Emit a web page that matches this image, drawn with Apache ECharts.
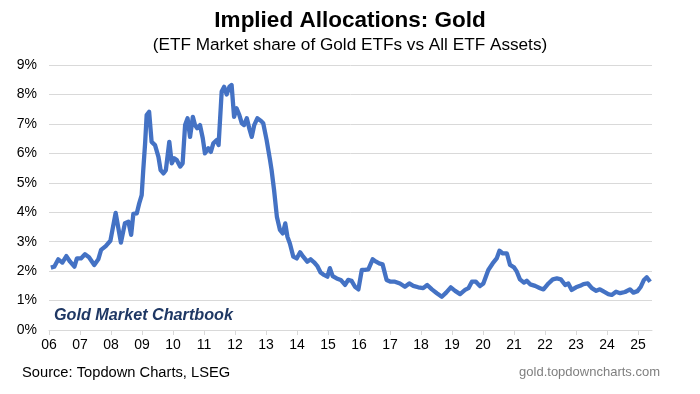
<!DOCTYPE html>
<html>
<head>
<meta charset="utf-8">
<script src="https://cdn.jsdelivr.net/npm/echarts@6/dist/echarts.min.js"></script>
<style>
html,body{margin:0;padding:0;background:#fff;}
#chart{width:700px;height:394px;}
</style>
</head>
<body>
<div id="chart"></div>
<script>
var dates = [2006.06,2006.17,2006.30,2006.43,2006.56,2006.68,2006.82,2006.90,2007.03,2007.16,2007.29,2007.46,2007.59,2007.68,2007.83,2007.98,
2008.15,2008.32,2008.45,2008.56,2008.65,2008.72,2008.83,2008.91,2008.99,2009.04,2009.10,2009.15,2009.23,2009.31,2009.42,2009.53,2009.60,2009.69,2009.77,2009.88,2009.96,
2010.04,2010.12,2010.23,2010.31,2010.39,2010.47,2010.55,2010.64,2010.71,2010.78,2010.87,2010.96,2011.03,2011.14,2011.22,2011.30,2011.41,2011.47,2011.57,2011.65,2011.73,2011.82,2011.89,2011.97,
2012.05,2012.14,2012.22,2012.29,2012.38,2012.46,2012.54,2012.62,2012.72,2012.83,2012.91,2013.02,2013.13,2013.18,2013.26,2013.35,2013.45,2013.54,2013.62,2013.69,2013.77,2013.88,2013.99,
2014.10,2014.20,2014.33,2014.44,2014.55,2014.65,2014.76,2014.87,2014.98,2015.06,2015.15,2015.28,2015.41,2015.55,2015.65,2015.76,2015.87,2015.98,
2016.09,2016.19,2016.30,2016.44,2016.55,2016.65,2016.76,2016.89,2017.02,2017.16,2017.32,2017.48,2017.62,2017.75,2017.91,
2018.07,2018.20,2018.35,2018.51,2018.67,2018.81,2018.96,2019.10,2019.26,2019.42,2019.53,2019.64,2019.77,2019.90,
2020.01,2020.17,2020.31,2020.44,2020.53,2020.64,2020.77,2020.87,2021.00,2021.09,2021.19,2021.32,2021.41,2021.52,2021.68,2021.84,2021.95,
2022.11,2022.25,2022.38,2022.51,2022.65,2022.75,2022.86,2023.00,2023.13,2023.24,2023.38,2023.51,2023.65,2023.77,2023.90,
2024.04,2024.15,2024.29,2024.42,2024.58,2024.74,2024.85,2024.98,2025.09,2025.19,2025.28,2025.39];

var shares = [2.12,2.15,2.40,2.29,2.51,2.32,2.15,2.43,2.43,2.57,2.47,2.21,2.40,2.72,2.85,3.03,
3.98,2.97,3.63,3.68,3.23,3.94,3.96,4.30,4.58,5.43,6.34,7.30,7.41,6.39,6.28,5.88,5.43,5.32,5.43,6.39,5.66,
5.83,5.77,5.55,5.66,6.96,7.19,6.56,7.24,6.96,6.85,6.96,6.51,6.00,6.17,6.05,6.34,6.45,6.28,8.10,8.26,8.00,8.26,8.32,7.24,
7.53,7.30,7.02,6.96,7.19,6.85,6.56,6.96,7.19,7.11,7.02,6.45,5.77,5.43,4.75,3.85,3.40,3.28,3.62,3.17,2.94,2.49,2.43,
2.64,2.49,2.32,2.40,2.30,2.18,1.95,1.87,1.81,2.10,1.83,1.75,1.70,1.53,1.70,1.67,1.47,1.38,
2.04,2.04,2.06,2.40,2.32,2.26,2.23,1.70,1.64,1.64,1.58,1.47,1.58,1.50,1.45,
1.42,1.53,1.38,1.25,1.13,1.27,1.45,1.33,1.22,1.36,1.42,1.64,1.64,1.49,
1.58,2.04,2.26,2.43,2.69,2.60,2.60,2.21,2.13,1.98,1.72,1.61,1.67,1.55,1.50,1.42,1.38,
1.58,1.72,1.75,1.72,1.53,1.58,1.36,1.45,1.50,1.56,1.58,1.42,1.33,1.38,1.30,
1.22,1.19,1.30,1.25,1.29,1.38,1.27,1.32,1.47,1.70,1.79,1.64];

var years = [2006,2007,2008,2009,2010,2011,2012,2013,2014,2015,2016,2017,2018,2019,2020,2021,2022,2023,2024,2025];
var yTicks = [0,1,2,3,4,5,6,7,8,9];

var titleText = 'Implied Allocations: Gold';
var subtitleText = '(ETF Market share of Gold ETFs vs All ETF Assets)';
var watermarkText = 'Gold Market Chartbook';
var sourceText = 'Source: Topdown Charts, LSEG';
var siteText = 'gold.topdowncharts.com';

var seriesData = dates.map(function (d, i) { return [d, shares[i]]; });

var chart = echarts.init(document.getElementById('chart'), null, {renderer: 'canvas'});
chart.setOption({
  animation: false,
  backgroundColor: '#ffffff',
  textStyle: {fontFamily: 'Liberation Sans, Arial, sans-serif'},
  title: [
    {text: titleText, left: 'center', top: 4, textStyle: {fontSize: 22.5, fontWeight: 'bold', color: '#000', fontFamily: 'Liberation Sans'}},
    {text: subtitleText, left: 'center', top: 32, textStyle: {fontSize: 17.2, fontWeight: 'normal', color: '#000', fontFamily: 'Liberation Sans'}},
    {text: watermarkText, left: 49, top: 303, textStyle: {fontSize: 16.2, fontWeight: 'bold', fontStyle: 'italic', color: '#1f3864', fontFamily: 'Liberation Sans'}},
    {text: sourceText, left: 17, top: 360, textStyle: {fontSize: 14.7, fontWeight: 'normal', color: '#000', fontFamily: 'Liberation Sans'}},
    {text: siteText, right: 35, top: 361, textStyle: {fontSize: 13, fontWeight: 'normal', color: '#7f7f7f', fontFamily: 'Liberation Sans'}}
  ],
  grid: {left: 49, right: 48, top: 65, bottom: 64, containLabel: false},
  xAxis: {
    type: 'value',
    min: 2006,
    max: 2025.45,
    interval: 1,
    axisLine: {show: true, lineStyle: {color: '#d9d9d9', width: 1}},
    axisTick: {show: true, length: 5, lineStyle: {color: '#d9d9d9'}, customValues: years},
    axisLabel: {
      customValues: years,
      fontSize: 14, color: '#000', margin: 8, fontFamily: 'Liberation Sans',
      formatter: function (v) { return String(Math.round(v)).slice(2); }
    },
    splitLine: {show: false}
  },
  yAxis: {
    type: 'value',
    min: 0,
    max: 9,
    interval: 1,
    axisLine: {show: false},
    axisTick: {show: false},
    axisLabel: {fontSize: 14, color: '#000', margin: 12, fontFamily: 'Liberation Sans', formatter: '{value}%'},
    splitLine: {show: true, lineStyle: {color: '#d9d9d9', width: 1}}
  },
  series: [{
    type: 'line',
    data: seriesData,
    symbol: 'none',
    smooth: false,
    lineStyle: {color: '#4472c4', width: 4.3, join: 'round'},
    z: 3
  }]
});
</script>
</body>
</html>
